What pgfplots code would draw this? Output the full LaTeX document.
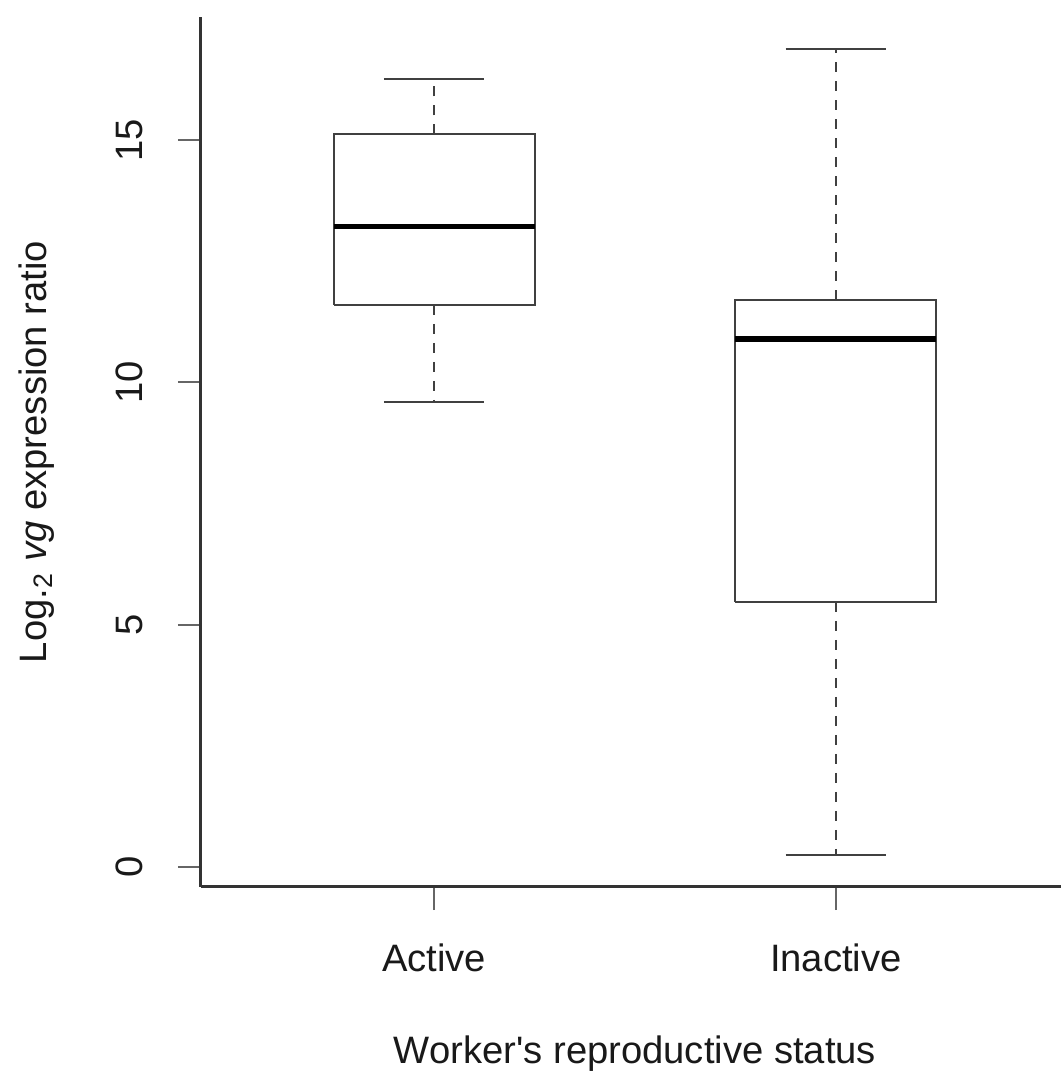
\documentclass[border=0pt]{standalone}
\usepackage{pgfplots}
\pgfplotsset{compat=1.18}
\usepackage{fontspec}
\setmainfont{Liberation Sans}[Ligatures=TeXOff]
\pgfplotsset{
  boxline/.style={black!75, line width=0.6pt},
  whiskerline/.style={black!75, line width=0.6pt, dash pattern=on 3pt off 2.7pt},
  medianline/.style={black, line width=1.7pt},
}
\begin{document}
\begin{tikzpicture}[font=\fontsize{11.46}{13.75}\selectfont]
\begin{axis}[
  scale only axis, width=260.4pt, height=261pt,
  xmin=0.42, xmax=2.58, ymin=-0.413, ymax=17.54,
  axis x line*=bottom, axis y line*=left,
  axis line style={-, black!80, line width=0.9pt},
  xtick={1,2}, xticklabels={Active,Inactive},
  ytick={0,5,10,15},
  tick align=outside, major tick length=6.9pt,
  tick style={black!60, line width=0.6pt},
  minor tick num=0,
  /pgf/number format/assume math mode=true,
  xticklabel style={anchor=north, inner sep=0pt, text=black!90},
  yticklabel style={rotate=90, anchor=south, inner sep=0pt, text=black!90},
  xticklabel shift=9.9pt, yticklabel shift=10.2pt,
  xlabel={Worker's reproductive status},
  ylabel={Log.\textsubscript{2} \textit{vg} expression ratio},
  xlabel style={at={(axis description cs:0.5,-0.1701)}, anchor=north, inner sep=0pt, text=black!90},
  ylabel style={at={(axis description cs:-0.1682,0.5)}, anchor=south, inner sep=0pt, text=black!90},
  clip=false,
]
% Active: whiskers 9.6 / 16.26, quartiles 11.6 / 15.12, median 13.22
\addplot[whiskerline] coordinates {(1,15.12) (1,16.26)};
\addplot[whiskerline] coordinates {(1,11.6) (1,9.6)};
\addplot[boxline] coordinates {(0.875,16.26) (1.125,16.26)};
\addplot[boxline] coordinates {(0.875,9.6) (1.125,9.6)};
\addplot[boxline] coordinates {(0.75,11.6) (1.25,11.6) (1.25,15.12) (0.75,15.12) (0.75,11.6)};
\addplot[medianline] coordinates {(0.75,13.22) (1.25,13.22)};
% Inactive: whiskers 0.25 / 16.88, quartiles 5.47 / 11.7, median 10.9
\addplot[whiskerline] coordinates {(2,11.7) (2,16.88)};
\addplot[whiskerline] coordinates {(2,5.47) (2,0.25)};
\addplot[boxline] coordinates {(1.875,16.88) (2.125,16.88)};
\addplot[boxline] coordinates {(1.875,0.25) (2.125,0.25)};
\addplot[boxline] coordinates {(1.75,5.47) (2.25,5.47) (2.25,11.7) (1.75,11.7) (1.75,5.47)};
\addplot[medianline] coordinates {(1.75,10.9) (2.25,10.9)};
\coordinate (LL) at (rel axis cs:0,0);
\end{axis}
\pgfresetboundingbox
\path[use as bounding box] (LL) ++(-60.3pt,-57pt) rectangle ++(318pt,323.1pt);
\end{tikzpicture}
\end{document}
